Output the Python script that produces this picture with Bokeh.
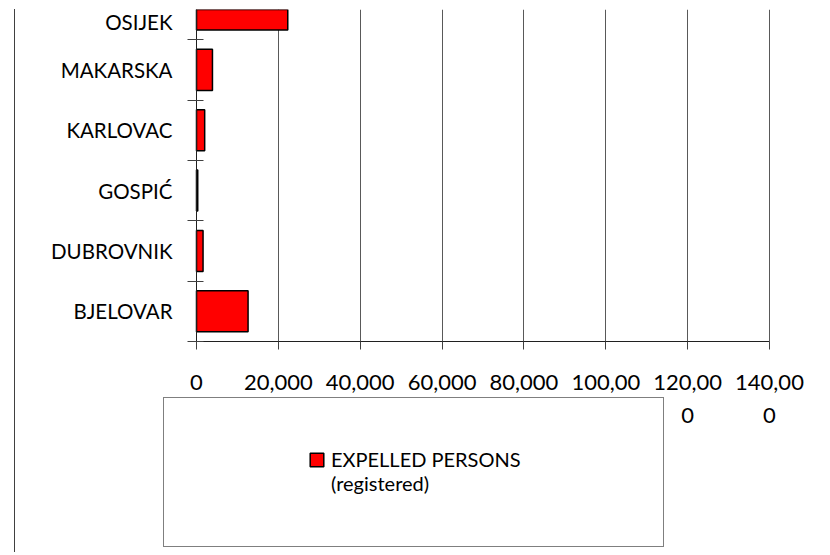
from bokeh.plotting import figure
from bokeh.models import Range1d, FixedTicker, Legend, LegendItem, ColumnDataSource, Grid
from bokeh.embed import file_html
from bokeh.resources import INLINE

# ---- data ----
cities = ["BJELOVAR", "DUBROVNIK", "GOSPIĆ", "KARLOVAC", "MAKARSKA", "OSIJEK"]
expelled = [12600, 1600, 300, 2000, 3900, 22300]
x_ticks = [0, 20000, 40000, 60000, 80000, 100000, 120000, 140000]
x_tick_labels = ["0", "20,000", "40,000", "60,000", "80,000", "100,00\n0", "120,00\n0", "140,00\n0"]
legend_lines = ["EXPELLED PERSONS", "(registered)"]

FONT = "Lato"

# ---- layout geometry (canvas pixels) ----
W, H = 812, 543
X0_PX, X1_PX = 181, 754      # canvas x of value 0 and of the last tick
Y0_PX = 332                  # canvas y of the category axis baseline
n = len(cities)
y_top = n - 0.5              # top of frame cuts through last category
kx = (X1_PX - X0_PX) / x_ticks[-1]
ky = Y0_PX / y_top

ypos = [i + 0.5 for i in range(n)]
src = ColumnDataSource(dict(y=ypos, right=expelled, city=cities))

p = figure(width=W, height=H, output_backend="svg", toolbar_location=None,
           x_range=Range1d(-X0_PX / kx, (W - X0_PX) / kx),
           y_range=Range1d(-(H - Y0_PX) / ky, y_top),
           min_border_left=0, min_border_right=0, min_border_top=0,
           min_border_bottom=0,
           styles={"margin-left": "14px", "margin-top": "9px",
                   "border-left": "1px solid #404040"})

p.outline_line_color = None
p.background_fill_color = "white"
p.border_fill_color = "white"

# grid
p.ygrid.visible = False
xg = p.xgrid[0]
xg.ticker = FixedTicker(ticks=x_ticks)
xg.grid_line_color = "#595959"
xg.grid_line_width = 1
if "cross_bounds" in Grid.properties():
    xg.cross_bounds = (0, y_top)
    xg.bounds = (0, x_ticks[-1])
    use_segments = False
else:
    xg.visible = False
    use_segments = True

# x axis
xa = p.xaxis[0]
xa.fixed_location = 0
xa.bounds = (0, x_ticks[-1])
xa.ticker = FixedTicker(ticks=x_ticks)
xa.major_label_overrides = dict(zip(x_ticks, x_tick_labels))
xa.major_tick_out = 8
xa.major_tick_in = 0
xa.major_tick_line_color = "#404040"
xa.minor_tick_line_color = None
xa.axis_line_color = "#202020"
xa.major_label_text_font = FONT
xa.major_label_text_font_size = "22px"
xa.major_label_text_color = "#000000"
xa.major_label_standoff = 18
xa.major_label_text_line_height = 1.25

# y axis
ya = p.yaxis[0]
ya.fixed_location = 0
ya.bounds = (0, y_top)
ya.ticker = FixedTicker(ticks=ypos, minor_ticks=list(range(n)))
ya.major_label_overrides = dict(zip(ypos, cities))
ya.major_tick_line_color = None
ya.major_tick_out = 0
ya.major_tick_in = 0
ya.minor_tick_in = 7
ya.minor_tick_out = 9
ya.minor_tick_line_color = "#404040"
ya.axis_line_color = "#202020"
ya.major_label_text_font = FONT
ya.major_label_text_font_size = "20.5px"
ya.major_label_text_color = "#000000"
ya.major_label_standoff = 15

if use_segments:
    p.segment(x0=x_ticks[1:], x1=x_ticks[1:], y0=[0] * (len(x_ticks) - 1),
              y1=[y_top] * (len(x_ticks) - 1), line_color="#595959", line_width=1)

# bars
bars = p.hbar(y="y", right="right", left=0, height=0.68, source=src,
              fill_color="#FF0000", line_color="black", line_width=1.5)

# legend box (frame)
dummy = p.hbar(y=[], right=[], left=0, height=0.5, fill_alpha=0, line_alpha=0)
leg_box = Legend(items=[LegendItem(label=" ", renderers=[dummy])],
                 location=(148, 5), padding=0, margin=0,
                 glyph_width=20, glyph_height=20, label_standoff=0,
                 label_width=479, label_height=148,
                 border_line_color="black", border_line_width=1,
                 background_fill_color="white", background_fill_alpha=1)
p.add_layout(leg_box, "center")

leg = Legend(items=[LegendItem(label=legend_lines[0], renderers=[bars]),
                    LegendItem(label=legend_lines[1], renderers=[dummy])],
             location=(293, 57), padding=0, margin=0, spacing=-2,
             border_line_color=None, background_fill_alpha=0,
             glyph_width=17, glyph_height=17, label_standoff=6,
             label_text_font=FONT, label_text_font_size="20px",
             label_text_color="#000000", label_text_line_height=1.0)
p.add_layout(leg, "center")

open("out.html", "w").write(file_html(p, INLINE))
